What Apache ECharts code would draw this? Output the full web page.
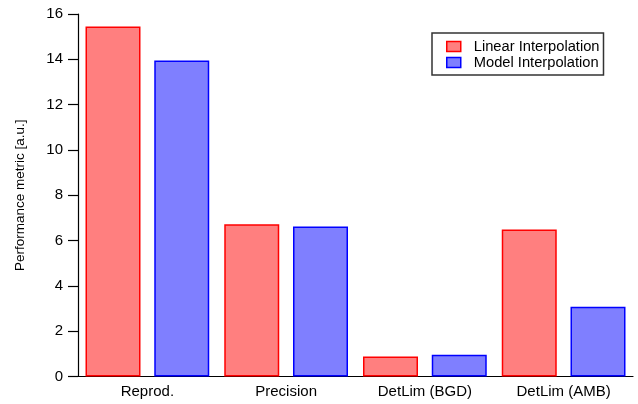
<!DOCTYPE html>
<html>
<head>
<meta charset="utf-8">
<script src="https://cdn.jsdelivr.net/npm/echarts@6/dist/echarts.min.js"></script>
<style>html,body{margin:0;padding:0;background:#fff}#c{width:638px;height:404px}</style>
</head>
<body>
<div id="c"></div>
<script>
var categories = ['Reprod.', 'Precision', 'DetLim (BGD)', 'DetLim (AMB)'];
var linearInterp = [15.45, 6.72, 0.88, 6.49];
var modelInterp = [13.95, 6.62, 0.96, 3.08];
var yTicks = [0, 2, 4, 6, 8, 10, 12, 14, 16];

var chart = echarts.init(document.getElementById('c'), null, {renderer: 'canvas'});
var font = 'Liberation Sans, Arial, sans-serif';
chart.setOption({
  animation: false,
  backgroundColor: '#fff',
  textStyle: {fontFamily: font},
  grid: {left: 78, right: 5, top: 14, bottom: 27.5, containLabel: false},
  legend: {
    orient: 'vertical',
    left: 432, top: 33,
    padding: [6, 4, 5, 14],
    itemGap: 1,
    icon: 'rect',
    itemWidth: 14, itemHeight: 10,
    borderColor: '#333', borderWidth: 1.5,
    textStyle: {fontSize: 14.7, color: '#000', fontFamily: font, padding: [0, 0, 0, 8]},
    itemStyle: {borderWidth: 1.5},
    data: ['Linear Interpolation', 'Model Interpolation']
  },
  xAxis: {
    type: 'category',
    data: categories,
    offset: 3,
    axisLine: {lineStyle: {color: '#000', width: 1.2}},
    axisTick: {length: 10, lineStyle: {color: '#000', width: 1.2}},
    axisLabel: {color: '#000', fontSize: 15, margin: 5, fontFamily: font}
  },
  yAxis: {
    type: 'value',
    min: yTicks[0], max: yTicks[yTicks.length - 1], interval: 2,
    name: 'Performance metric [a.u.]',
    nameLocation: 'middle',
    nameGap: 51,
    nameTextStyle: {fontSize: 13.5, color: '#000', fontFamily: font},
    splitLine: {show: false},
    axisLine: {show: true, lineStyle: {color: '#000', width: 1.2}},
    axisTick: {show: true, inside: false, length: 10, lineStyle: {color: '#000', width: 1.2}},
    axisLabel: {color: '#000', fontSize: 15, margin: 15, fontFamily: font}
  },
  series: [
    {
      name: 'Linear Interpolation', type: 'bar', data: linearInterp,
      barWidth: 55, barGap: '25%',
      itemStyle: {color: 'rgba(255,0,0,0.5)', borderColor: '#ff0000', borderWidth: 1.5}
    },
    {
      name: 'Model Interpolation', type: 'bar', data: modelInterp,
      barWidth: 55, barGap: '25%',
      itemStyle: {color: 'rgba(0,0,255,0.5)', borderColor: '#0000ff', borderWidth: 1.5}
    }
  ]
});
</script>
</body>
</html>
